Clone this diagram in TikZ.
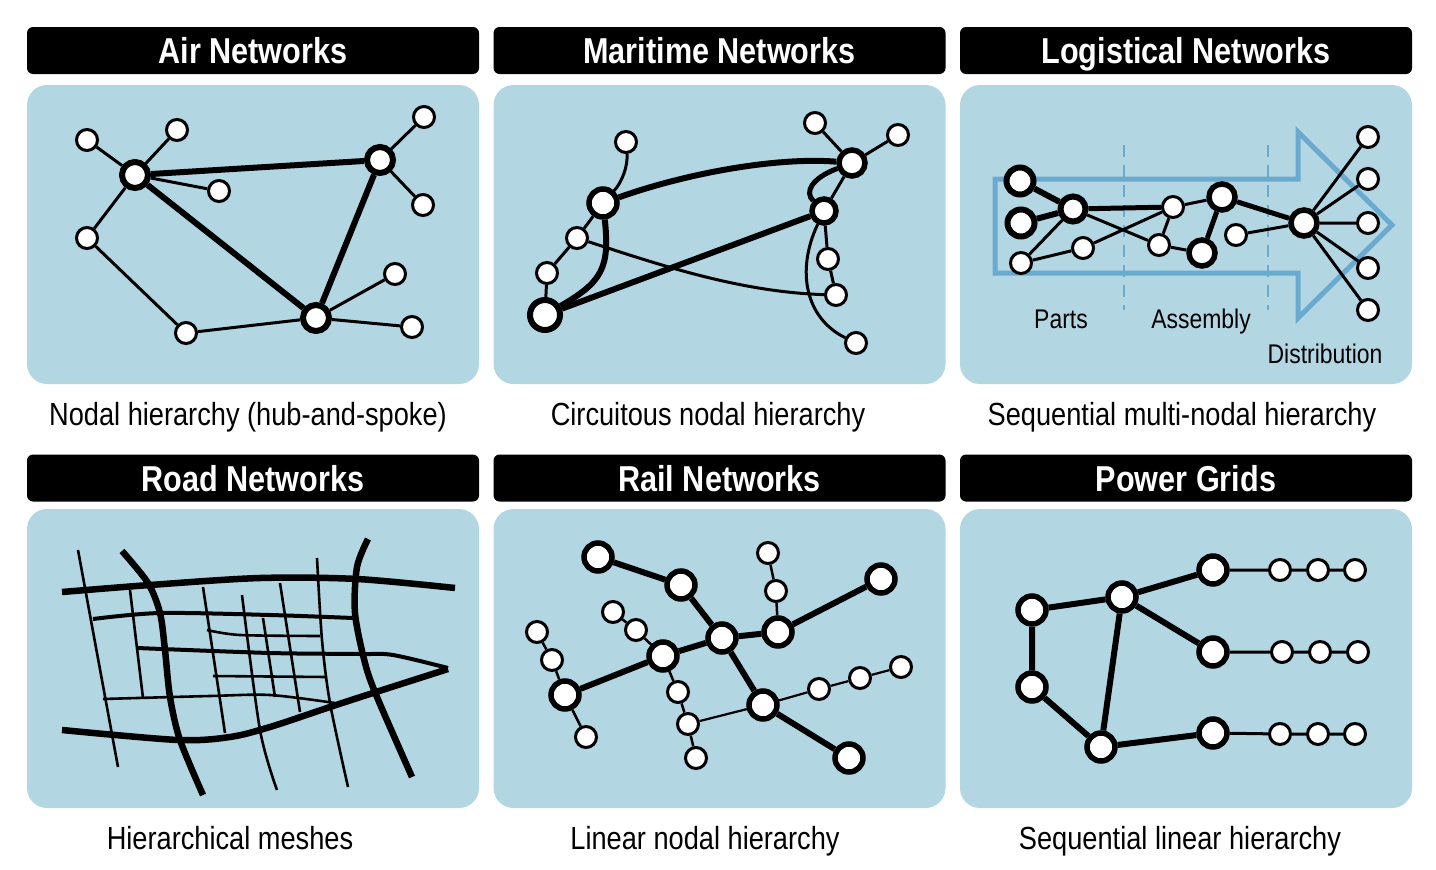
\documentclass[tikz,border=0pt]{standalone}
\usepackage{fontspec}
\setmainfont[FakeStretch=0.85]{Liberation Sans}
\definecolor{netPanel}{HTML}{B3D6E3}
\definecolor{netFlow}{HTML}{6AAACE}
\pgfdeclarelayer{backdrop}
\pgfdeclarelayer{links}
\pgfsetlayers{backdrop,links,main}
\tikzset{
  panelBox/.style={
    fill=netPanel,
    rounded corners=20pt,
    minimum width=452pt,
    minimum height=299pt,
    inner sep=0pt
  },
  titleBox/.style={
    fill=black,
    text=white,
    rounded corners=6pt,
    minimum width=452pt,
    minimum height=47pt,
    text height=26pt,
    text depth=0pt,
    inner sep=0pt,
    font=\fontsize{36}{40}\selectfont\bfseries
  },
  captionText/.style={anchor=base, inner sep=0pt, font=\fontsize{32}{36}\selectfont},
  stageText/.style={anchor=base, inner sep=0pt, font=\fontsize{27}{30}\selectfont},
  hubNode/.style={circle, draw=black, fill=white, line width=5.5pt, minimum size=28pt, inner sep=0pt},
  stopNode/.style={circle, draw=black, fill=white, line width=3pt, minimum size=21pt, inner sep=0pt},
  trunkLink/.style={line width=6pt},
  feedLink/.style={line width=3pt},
  spurLink/.style={line width=2.2pt},
  roadMajor/.style={line width=6.5pt},
  roadMid/.style={line width=4pt},
  roadMinor/.style={line width=2.6pt},
  flowArrow/.style={draw=netFlow, line width=5pt, line join=miter},
  stageLine/.style={draw=netFlow, line width=2pt, dash pattern=on 12pt off 8pt}
}

\begin{document}
\begin{tikzpicture}[x=1pt,y=-1pt]
  \useasboundingbox (0,0) rectangle (1436,870);

  % panels, titles and captions
  \begin{pgfonlayer}{backdrop}
    \node[panelBox] (pAir) at (253,234.5) {};
    \node[panelBox] (pSea) at (719.5,234.5) {};
    \node[panelBox] (pLog) at (1186,234.5) {};
    \node[panelBox] (pRoad) at (253,658.5) {};
    \node[panelBox] (pRail) at (719.5,658.5) {};
    \node[panelBox] (pGrid) at (1186,658.5) {};
  \end{pgfonlayer}
  \node[titleBox] (tAir) at (253,50.5) {Air Networks};
  \node[titleBox] (tSea) at (719.5,50.5) {Maritime Networks};
  \node[titleBox] (tLog) at (1186,50.5) {Logistical Networks};
  \node[titleBox] (tRoad) at (253,478) {Road Networks};
  \node[titleBox] (tRail) at (719.5,478) {Rail Networks};
  \node[titleBox] (tGrid) at (1186,478) {Power Grids};
  \node[captionText] (cAir) at (248,425) {Nodal hierarchy (hub-and-spoke)};
  \node[captionText] (cSea) at (708,425) {Circuitous nodal hierarchy};
  \node[captionText] (cLog) at (1182,425) {Sequential multi-nodal hierarchy};
  \node[captionText] (cRoad) at (230,849) {Hierarchical meshes};
  \node[captionText] (cRail) at (705,849) {Linear nodal hierarchy};
  \node[captionText] (cGrid) at (1180,849) {Sequential linear hierarchy};

  % air
  \node[hubNode, line width=6pt, minimum size=26pt] (aWest) at (135,175) {};
  \node[hubNode, line width=6pt, minimum size=26pt] (aEast) at (380,160) {};
  \node[hubNode, line width=6pt, minimum size=26pt] (aSouth) at (316,318) {};
  \node[stopNode] (a1) at (87,140) {};
  \node[stopNode] (a2) at (177,130) {};
  \node[stopNode] (a3) at (219,191) {};
  \node[stopNode] (a4) at (87,238) {};
  \node[stopNode] (a5) at (186,333) {};
  \node[stopNode] (a6) at (424,117) {};
  \node[stopNode] (a7) at (423,205) {};
  \node[stopNode] (a8) at (395,274) {};
  \node[stopNode] (a9) at (412,327) {};
  \begin{pgfonlayer}{links}
    \draw[trunkLink] (aWest) -- (aEast) (aWest) -- (aSouth) (aEast) -- (aSouth);
    \draw[feedLink] (aWest) -- (a1) (aWest) -- (a2) (aWest) -- (a3) (aWest) -- (a4)
      (a4) -- (a5) (a5) -- (aSouth) (aEast) -- (a6) (aEast) -- (a7)
      (aSouth) -- (a8) (aSouth) -- (a9);
  \end{pgfonlayer}

  % maritime
  \node[hubNode, minimum size=28pt] (mP) at (603,203) {};
  \node[hubNode, line width=6pt, minimum size=30pt] (mQ) at (545,315) {};
  \node[hubNode, minimum size=26pt] (mR) at (852,163) {};
  \node[hubNode, minimum size=24pt] (mS) at (824,211) {};
  \node[stopNode] (mT) at (626,142) {};
  \node[stopNode] (mA) at (577,238) {};
  \node[stopNode] (mB) at (547,273) {};
  \node[stopNode] (mC) at (815,123) {};
  \node[stopNode] (mD) at (898,135) {};
  \node[stopNode] (mE) at (828,259) {};
  \node[stopNode] (mF) at (836,295) {};
  \node[stopNode] (mG) at (856,343) {};
  \begin{pgfonlayer}{links}
    \draw[trunkLink] (mP) .. controls (690,172) and (780,157) .. (mR);
    \draw[trunkLink] (mP) .. controls (610,268) and (602,282) .. (mQ);
    \draw[trunkLink] (mQ) -- (mS);
    \draw[trunkLink, line width=5pt] (mR) .. controls (812,178) and (804,192) .. (mS);
    \draw[feedLink] (mP) .. controls (622,182) and (628,166) .. (mT);
    \draw[feedLink] (mP) -- (mA) (mA) -- (mB) (mB) -- (mQ);
    \draw[feedLink] (mR) -- (mS) (mR) -- (mC) (mR) -- (mD);
    \draw[feedLink] (mS) -- (mE) (mE) -- (mF);
    \draw[feedLink] (mA) .. controls (660,265) and (740,292) .. (mF);
    \draw[feedLink] (mS) .. controls (796,270) and (805,318) .. (mG);
  \end{pgfonlayer}

  % logistics
  \begin{pgfonlayer}{links}
    \draw[flowArrow] (995,179) -- (1298,179) -- (1298,132) -- (1392,225)
      -- (1298,318) -- (1298,273) -- (995,273) -- cycle;
    \draw[stageLine] (1124,145) -- (1124,310);
    \draw[stageLine] (1268,145) -- (1268,310);
  \end{pgfonlayer}
  \node[hubNode, line width=6pt, minimum size=27pt] (lA) at (1020,181) {};
  \node[hubNode, line width=6pt, minimum size=27pt] (lB) at (1021,223) {};
  \node[stopNode] (lC) at (1021,263) {};
  \node[hubNode, line width=6pt, minimum size=25pt] (lM) at (1073,209) {};
  \node[stopNode] (lN) at (1083,248) {};
  \node[stopNode] (lO) at (1173,207) {};
  \node[stopNode] (lP) at (1159,245) {};
  \node[hubNode, minimum size=26pt] (lQ) at (1222,197) {};
  \node[hubNode, minimum size=26pt] (lR) at (1202,253) {};
  \node[stopNode] (lS) at (1236,235) {};
  \node[hubNode, minimum size=26pt] (lD) at (1304,223) {};
  \node[stopNode] (lO1) at (1368,137) {};
  \node[stopNode] (lO2) at (1368,179) {};
  \node[stopNode] (lO3) at (1368,223) {};
  \node[stopNode] (lO4) at (1368,268) {};
  \node[stopNode] (lO5) at (1368,310) {};
  \begin{pgfonlayer}{links}
    \draw[trunkLink] (lA) -- (lM) (lB) -- (lM);
    \draw[trunkLink, line width=5pt] (lM) -- (lO) (lQ) -- (lD) (lQ) -- (lR);
    \draw[feedLink] (lC) -- (lM) (lC) -- (lN) (lN) -- (lO) (lM) -- (lP)
      (lP) -- (lO) (lP) -- (lR) (lO) -- (lQ) (lS) -- (lD);
    \draw[feedLink] (lD) -- (lO1) (lD) -- (lO2) (lD) -- (lO3) (lD) -- (lO4) (lD) -- (lO5);
  \end{pgfonlayer}
  \node[stageText] (sParts) at (1061,328) {Parts};
  \node[stageText] (sAssembly) at (1201,328) {Assembly};
  \node[stageText] (sDistribution) at (1325,363) {Distribution};

  % road
  \draw[roadMajor] plot[smooth] coordinates {(62,592) (150,585) (260,578) (357,579) (455,588)};
  \draw[roadMajor] plot[smooth] coordinates {(62,730) (178,740) (230,737) (270,727) (330,707) (373,693) (448,669)};
  \draw[roadMajor] plot[smooth] coordinates {(122,551) (148,583) (160,613) (165,650) (170,697) (180,740) (203,795)};
  \draw[roadMajor] plot[smooth] coordinates {(368,539) (357,567) (355,613) (365,663) (377,697) (412,777)};
  \draw[roadMid] plot[smooth] coordinates {(93,619) (160,613) (270,615) (353,618)};
  \draw[roadMid] plot[smooth] coordinates {(137,648) (270,653) (360,654) (393,655) (448,668)};
  \draw[roadMinor] (78,550) -- (118,767);
  \draw[roadMinor] (130,590) -- (143,698);
  \draw[roadMinor] (203,587) -- (225,733);
  \draw[roadMinor] plot[smooth] coordinates {(242,595) (260,730) (277,790)};
  \draw[roadMinor] (263,618) -- (275,697);
  \draw[roadMinor] (280,583) -- (300,712);
  \draw[roadMinor] plot[smooth] coordinates {(317,558) (322,640) (330,703) (348,787)};
  \draw[roadMinor] plot[smooth] coordinates {(207,630) (240,635) (320,636)};
  \draw[roadMinor] (213,676) -- (327,677);
  \draw[roadMinor] plot[smooth] coordinates {(103,699) (210,696) (270,695) (335,703)};

  % rail
  \node[hubNode] (rN1) at (598,557) {};
  \node[hubNode] (rN2) at (681,585) {};
  \node[hubNode] (rHub) at (722,638) {};
  \node[hubNode] (rN3) at (778,632) {};
  \node[hubNode] (rN4) at (881,579) {};
  \node[hubNode] (rN5) at (663,656) {};
  \node[hubNode] (rN6) at (565,695) {};
  \node[hubNode] (rN7) at (763,705) {};
  \node[hubNode] (rN8) at (849,758) {};
  \node[stopNode] (rS1) at (768,553) {};
  \node[stopNode] (rS2) at (776,591) {};
  \node[stopNode] (rS3) at (613,612) {};
  \node[stopNode] (rS4) at (636,630) {};
  \node[stopNode] (rS5) at (537,632) {};
  \node[stopNode] (rS6) at (552,660) {};
  \node[stopNode] (rS7) at (586,737) {};
  \node[stopNode] (rS8) at (678,692) {};
  \node[stopNode] (rS9) at (688,724) {};
  \node[stopNode] (rS10) at (696,758) {};
  \node[stopNode] (rS11) at (819,689) {};
  \node[stopNode] (rS12) at (860,678) {};
  \node[stopNode] (rS13) at (901,667) {};
  \begin{pgfonlayer}{links}
    \draw[trunkLink] (rN1) -- (rN2) (rN2) -- (rHub) (rHub) -- (rN3) (rN3) -- (rN4)
      (rHub) -- (rN5) (rN5) -- (rN6) (rHub) -- (rN7) (rN7) -- (rN8);
    \draw[feedLink, line width=2.5pt] (rS1) -- (rS2) (rS2) -- (rN3) (rS3) -- (rS4) (rS4) -- (rN5)
      (rS5) -- (rS6) (rS6) -- (rN6) (rN6) -- (rS7)
      (rN5) -- (rS8) (rS8) -- (rS9) (rS9) -- (rS10);
    \draw[spurLink] (rS9) -- (rN7) (rN7) -- (rS11) (rS11) -- (rS12) (rS12) -- (rS13);
  \end{pgfonlayer}

  % power
  \node[hubNode] (gW1) at (1032,610) {};
  \node[hubNode] (gW2) at (1032,687) {};
  \node[hubNode] (gMid) at (1122,597) {};
  \node[hubNode] (gLow) at (1101,747) {};
  \node[hubNode] (gF1) at (1213,570) {};
  \node[hubNode] (gF2) at (1213,652) {};
  \node[hubNode] (gF3) at (1213,733) {};
  \node[stopNode] (g11) at (1280,570) {};
  \node[stopNode] (g12) at (1318,570) {};
  \node[stopNode] (g13) at (1355,570) {};
  \node[stopNode] (g21) at (1282,652) {};
  \node[stopNode] (g22) at (1320,652) {};
  \node[stopNode] (g23) at (1358,652) {};
  \node[stopNode] (g31) at (1280,734) {};
  \node[stopNode] (g32) at (1318,734) {};
  \node[stopNode] (g33) at (1355,734) {};
  \begin{pgfonlayer}{links}
    \draw[trunkLink] (gW1) -- (gMid) (gW1) -- (gW2) (gW2) -- (gLow) (gLow) -- (gMid)
      (gMid) -- (gF1) (gMid) -- (gF2) (gLow) -- (gF3);
    \draw[feedLink] (gF1) -- (g11) (g11) -- (g12) (g12) -- (g13)
      (gF2) -- (g21) (g21) -- (g22) (g22) -- (g23)
      (gF3) -- (g31) (g31) -- (g32) (g32) -- (g33);
  \end{pgfonlayer}
\end{tikzpicture}
\end{document}
